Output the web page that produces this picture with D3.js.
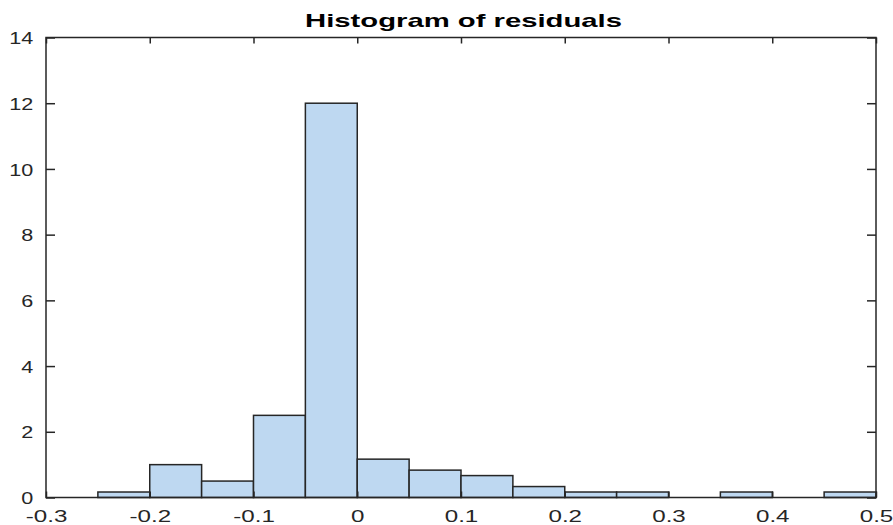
<!DOCTYPE html>
<html><head><meta charset="utf-8">
<script src="https://cdn.jsdelivr.net/npm/d3@7"></script>
<style>body{margin:0;background:#fff}svg{display:block}</style>
</head><body>
<svg id="c" width="893" height="525"></svg>
<script>
const binEdges = [-0.25,-0.2,-0.15,-0.1,-0.05,0,0.05,0.1,0.15,0.2,0.25,0.3,0.35,0.4,0.45,0.5];
const binValues = [0.167,1.0,0.5,2.5,12.0,1.167,0.833,0.667,0.333,0.167,0.167,0,0.167,0,0.167];
const xTicks = [-0.3,-0.2,-0.1,0,0.1,0.2,0.3,0.4,0.5];
const yTicks = [0,2,4,6,8,10,12,14];
const title = "Histogram of residuals";

const svg = d3.select("#c");
const L=46,R=876,T=37.5,B=497.5;
const x = d3.scaleLinear().domain([-0.3,0.5]).range([L,R]);
const y = d3.scaleLinear().domain([0,14]).range([B,T]);
const font = "'Liberation Sans', Arial, Helvetica, sans-serif";
const ink = "#262626";

const bins = binValues.map((v,i)=>({x0:binEdges[i],x1:binEdges[i+1],v}));
svg.append("g").selectAll("rect").data(bins.filter(d=>d.v>0)).join("rect")
  .attr("x",d=>x(d.x0)).attr("width",d=>x(d.x1)-x(d.x0))
  .attr("y",d=>y(d.v)).attr("height",d=>y(0)-y(d.v))
  .attr("fill","#bed8f1").attr("stroke",ink).attr("stroke-width",1.5);

const fmtX = d=> d===0 ? "0" : String(d).replace("\u2212","-");
const styleLines = g=>{g.select(".domain").remove();g.selectAll("line").attr("stroke",ink).attr("stroke-width",1.5);};
function stretch(sel, factor){
  sel.each(function(){const n=this.getComputedTextLength(); d3.select(this).attr("textLength",n*factor).attr("lengthAdjust","spacingAndGlyphs");});
}
// bottom
const gb = svg.append("g").attr("transform",`translate(0,${B})`)
  .call(d3.axisBottom(x).tickValues(xTicks).tickSize(-6).tickFormat(fmtX))
  .call(styleLines);
gb.selectAll("text").attr("font-family",font).attr("font-size","17px").attr("fill",ink)
  .attr("y",24).attr("dy",null);
stretch(gb.selectAll("text"),1.42);
// top
svg.append("g").attr("transform",`translate(0,${T})`)
  .call(d3.axisTop(x).tickValues(xTicks).tickSize(-6).tickFormat(""))
  .call(styleLines);
// left
const gl = svg.append("g").attr("transform",`translate(${L},0)`)
  .call(d3.axisLeft(y).tickValues(yTicks).tickSize(-9).tickFormat(d3.format("d")))
  .call(styleLines);
gl.selectAll("text").attr("font-family",font).attr("font-size","17px").attr("fill",ink)
  .attr("x",-12.7).attr("dy","0.36em");
stretch(gl.selectAll("text"),1.27);
// right
svg.append("g").attr("transform",`translate(${R},0)`)
  .call(d3.axisRight(y).tickValues(yTicks).tickSize(-9).tickFormat(""))
  .call(styleLines);
// box
svg.append("rect").attr("x",L).attr("y",T).attr("width",R-L).attr("height",B-T)
  .attr("fill","none").attr("stroke",ink).attr("stroke-width",1.5);

const tt = svg.append("text").attr("x",(305+622)/2).attr("y",26.5).attr("text-anchor","middle")
  .attr("font-family",font).attr("font-weight","bold").attr("font-size","19px").attr("fill","#000").text(title);
tt.attr("textLength",317).attr("lengthAdjust","spacingAndGlyphs");
</script>
</body></html>
